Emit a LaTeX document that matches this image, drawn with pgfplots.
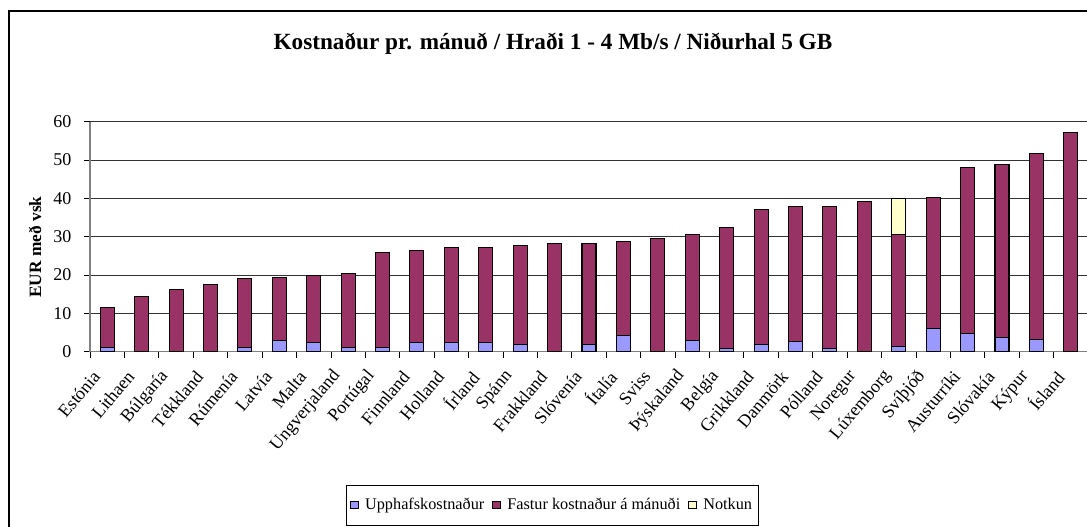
\documentclass[border=0pt]{standalone}
\usepackage{fontspec}
\setmainfont{Liberation Serif}
\usepackage{pgfplots}
\usepackage{pgfplotstable}
\pgfplotsset{compat=1.18}

\definecolor{upph}{HTML}{9999FF}
\definecolor{fast}{HTML}{993366}
\definecolor{notk}{HTML}{FFFFCC}

\pgfplotstableread{
x up fast notk
0 1.0 10.6 0
1 0 14.5 0
2 0 16.3 0
3 0 17.6 0
4 1.0 18.0 0
5 2.9 16.5 0
6 2.5 17.4 0
7 1.0 19.4 0
8 1.0 24.9 0
9 2.5 23.8 0
10 2.5 24.8 0
11 2.5 24.8 0
12 1.9 25.9 0
13 0 28.2 0
14 1.9 26.3 0
15 4.2 24.5 0
16 0 29.6 0
17 2.9 27.6 0
18 0.9 31.5 0
19 1.9 35.1 0
20 2.6 35.3 0
21 0.9 37.0 0
22 0 39.3 0
23 1.3 29.2 9.4
24 6.1 34.1 0
25 4.8 43.2 0
26 3.7 45.2 0
27 3.2 48.5 0
28 0 57.1 0
}\data

\begin{document}
\begin{tikzpicture}
\useasboundingbox (0,0) rectangle (815.25pt,395.25pt);
\draw[line width=1.1pt] (6.75pt,-3pt) -- (6.75pt,387pt) -- (820pt,387pt);
\begin{axis}[
  at={(67.5pt,131.475pt)}, anchor=south west,
  scale only axis, width=748.5pt, height=172.5pt,
  ybar stacked, bar width=10.5pt,
  xmin=-0.5, xmax=28.5, ymin=0, ymax=60,
  axis x line*=bottom, axis y line*=left,
  axis line style={draw=black!50, line width=1.1pt, -},
  ytick={0,10,...,60},
  ymajorgrids, grid style={black!80, line width=0.75pt},
  xtick={0,...,28},
  xticklabels={Estónia,Lithaen,Búlgaría,Tékkland,Rúmenía,Latvía,Malta,Ungverjaland,Portúgal,Finnland,Holland,Írland,Spánn,Frakkland,Slóvenía,Ítalía,Sviss,Þýskaland,Belgía,Grikkland,Danmörk,Pólland,Noregur,Lúxemborg,Svíþjóð,Austurríki,Slóvakía,Kýpur,Ísland},
  minor xtick={-0.5,0.5,...,28.5},
  tick align=outside,
  major tick length=4.5pt,
  x tick style={draw=none},
  minor x tick style={draw=black, line width=0.6pt},
  minor tick length=4.5pt,
  y tick style={draw=black, line width=0.6pt},
  yticklabel style={font=\fontsize{13.5}{15}\selectfont, xshift=-6pt},
  xticklabel style={font=\fontsize{13.5}{15}\selectfont, xshift=-6pt, yshift=-9pt, rotate=50, anchor=east},
  /pgf/number format/assume math mode=true,
  title={Kostnaður pr. mánuð / Hraði 1 - 4 Mb/s / Niðurhal 5 GB},
  title style={font=\bfseries\fontsize{17.4}{20}\selectfont, at={(axis description cs:0.4639,1.303)}, anchor=center},
  ylabel={EUR með vsk},
  ylabel style={font=\bfseries\fontsize{13}{15}\selectfont, at={(axis description cs:-0.0551,0.455)}, anchor=center, rotate=0},
  legend columns=3,
  legend style={at={(axis description cs:0.4634,-0.667)}, anchor=center,
    draw=black, line width=0.6pt, font=\fontsize{12.2}{15}\selectfont,
    inner xsep=3pt, inner ysep=8pt,
    /tikz/every odd column/.append style={column sep=3pt},
    /tikz/every even column/.append style={column sep=4pt}},
  legend image code/.code={\draw[#1,draw=black,line width=0.6pt] (0pt,-2.8pt) rectangle (5.6pt,2.8pt);},
]
\addplot[fill=upph, draw=black, line width=0.8pt] table[x=x,y=up]{\data};
\addplot[fill=fast, draw=black, line width=0.8pt] table[x=x,y=fast]{\data};
\addplot[fill=notk, draw=black, line width=0.8pt] table[x=x,y=notk]{\data};
\legend{Upphafskostnaður, Fastur kostnaður á mánuði, Notkun}
\end{axis}
\end{tikzpicture}
\end{document}
